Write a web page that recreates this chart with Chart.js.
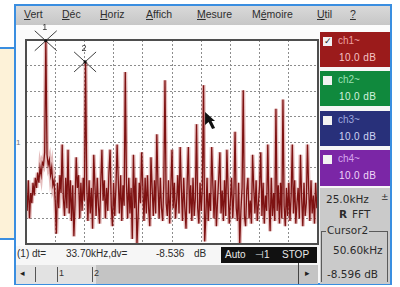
<!DOCTYPE html>
<html><head><meta charset="utf-8">
<script src="https://cdn.jsdelivr.net/npm/chart.js@4.4.1/dist/chart.umd.min.js"></script>
<style>
html,body{margin:0;padding:0;background:#fff;width:400px;height:287px;overflow:hidden;font-family:"Liberation Sans",Arial,sans-serif;}
#page{position:relative;width:400px;height:287px;}
.a{position:absolute;white-space:nowrap;}
.menu{top:8px;font-size:10.5px;color:#2e2e2e;}
.ch{left:320px;width:70px;height:35px;}
.chk{position:absolute;left:3px;top:5px;width:9px;height:9px;background:#f2f2f2;font-size:9px;line-height:9px;color:#222;text-align:center;}
.cn{position:absolute;left:18px;top:3px;font-size:10px;}
.cv{position:absolute;left:19px;top:20px;font-size:10px;letter-spacing:0.4px;}
.gt{font-family:"DejaVu Sans",sans-serif;font-size:10.5px;color:#2a2a2a;}
.st{top:248px;font-size:10px;color:#2a2a2a;}
#c{position:absolute;left:0;top:0;z-index:5;}
</style></head><body>
<div id="page">
  <!-- cream side box -->
  <div class="a" style="left:0;top:48px;width:14px;height:191px;background:#fdf2d8"></div>
  <div class="a" style="left:0;top:47px;width:15px;height:2px;background:#3a8ee0"></div>
  <div class="a" style="left:0;top:238px;width:15px;height:2px;background:#3a8ee0"></div>
  <!-- screenshot frame -->
  <div class="a" style="left:14px;top:4px;width:378px;height:281px;box-sizing:border-box;border:2px solid #3a8ee0;background:#f6f6f6"></div>
  <!-- menu bar -->
  <div class="a" style="left:16px;top:6px;width:374px;height:19px;background:linear-gradient(#d9d9d9,#c6c6c6)"></div>
  <div class="a menu" style="left:24px"><u>V</u>ert</div>
  <div class="a menu" style="left:62px"><u>D</u>éc</div>
  <div class="a menu" style="left:100px"><u>H</u>oriz</div>
  <div class="a menu" style="left:146px"><u>A</u>ffich</div>
  <div class="a menu" style="left:197px"><u>M</u>esure</div>
  <div class="a menu" style="left:252px">M<u>é</u>moire</div>
  <div class="a menu" style="left:317px"><u>U</u>til</div>
  <div class="a menu" style="left:350px"><u>?</u></div>
  <!-- white area under menu -->
  <div class="a" style="left:16px;top:25px;width:374px;height:15px;background:#fbfbfb"></div>
  <div class="a" style="left:16px;top:40px;width:10px;height:206px;background:#fbfbfb"></div>
  <div class="a" style="left:26px;top:40px;width:292px;height:204px;background:#ffffff"></div>
  <div class="a" style="left:16px;top:138px;font-size:8px;color:#777">1</div>

  <!-- channel boxes -->
  <div class="a ch" style="top:32px;background:#9b1b1b">
    <div class="chk">✓</div>
    <div class="cn" style="color:#eea0a0">ch1~</div>
    <div class="cv" style="color:#f6c4c4">10.0 dB</div>
  </div>
  <div class="a ch" style="top:71px;background:#10893d">
    <div class="chk"></div>
    <div class="cn" style="color:#9ee0b4">ch2~</div>
    <div class="cv" style="color:#d2f3dc">10.0 dB</div>
  </div>
  <div class="a ch" style="top:111px;background:#28307a">
    <div class="chk"></div>
    <div class="cn" style="color:#9ea6de">ch3~</div>
    <div class="cv" style="color:#cfd3f3">10.0 dB</div>
  </div>
  <div class="a ch" style="top:150px;height:36px;background:#7b26a6">
    <div class="chk"></div>
    <div class="cn" style="color:#d8a6ee">ch4~</div>
    <div class="cv" style="color:#efd6f8">10.0 dB</div>
  </div>
  <!-- gray info panel -->
  <div class="a" style="left:320px;top:188px;width:70px;height:96px;background:#cacaca"></div>
  <div class="a gt" style="left:326px;top:193px">25.0kHz</div>
  <div class="a gt" style="left:381px;top:192px;font-size:9px">±</div>
  <div class="a gt" style="left:339px;top:208px;font-weight:bold">R</div>
  <div class="a gt" style="left:352px;top:208px">FFT</div>
  <div class="a" style="left:321px;top:231px;width:67px;height:51px;box-sizing:border-box;border:1px solid #5a5a5a;border-bottom:none"></div>
  <div class="a gt" style="left:326px;top:224px;background:#cacaca;padding:0 1px">Cursor2</div>
  <div class="a gt" style="left:333px;top:244px">50.60kHz</div>
  <div class="a gt" style="left:327px;top:268px">-8.596 dB</div>

  <!-- status row -->
  <div class="a st" style="left:17px">(1) dt=</div>
  <div class="a st" style="left:66px">33.70kHz,dv=</div>
  <div class="a st" style="left:156px">-8.536</div>
  <div class="a st" style="left:194px">dB</div>
  <div class="a" style="left:221px;top:247px;width:96px;height:16px;background:#111"></div>
  <div class="a" style="left:225px;top:249px;font-size:10px;color:#e8e8e8">Auto</div>
  <div class="a" style="left:255px;top:249px;font-size:10px;color:#e8e8e8">⊣1</div>
  <div class="a" style="left:282px;top:249px;font-size:10px;color:#e8e8e8">STOP</div>
  <!-- scrollbar -->
  <div class="a" style="left:16px;top:265px;width:302px;height:19px;background:#c4c4c4"></div>
  <div class="a" style="left:16px;top:265px;width:80px;height:19px;background:#e2e2e2"></div>
  <div class="a" style="left:20px;top:268px;font-size:9px;color:#222">◂</div>
  <div class="a" style="left:35px;top:267px;width:1px;height:15px;background:#555"></div>
  <div class="a" style="left:57px;top:267px;width:1px;height:15px;background:#555"></div>
  <div class="a" style="left:59px;top:268px;font-size:9px;color:#333">1</div>
  <div class="a" style="left:92px;top:267px;width:1px;height:15px;background:#555"></div>
  <div class="a" style="left:94px;top:268px;font-size:9px;color:#333">2</div>
  <div class="a" style="left:298px;top:263px;width:1px;height:21px;background:#444"></div>
  <div class="a" style="left:305px;top:268px;font-size:9px;color:#222">▸</div>
</div>
<canvas id="c" width="400" height="287"></canvas>
<script>
// FFT spectrum of channel 1, one value per 1 kHz bin, 0 .. 250 kHz (dB)
const BIN_KHZ = 1;
const spectrumDb = [
 -58,-67,-55,-70,-60,-64,-56,-61,-54,-58,
 -52,-56,-50,-53,-48,-49,-44,0,-45,-49,
 -47,-53,-50,-57,-55,-63,-76,-56,-66,-53,
 -60,-41,-62,-69,-54,-66,-43,-68,-55,-71,
 -57,-77,-64,-46,-58,-53,-70,-56,-67,-54,
 -63,-8.6,-57,-71,-55,-68,-58,-74,-45,-57,
 -69,-54,-65,-72,-56,-43,-63,-55,-70,-58,
 -67,-52,-43,-65,-73,-56,-69,-58,-41,-55,
 -68,-53,-71,-57,-65,-12.6,-56,-70,-54,-68,
 -58,-78,-45,-66,-54,-80,-69,-56,-64,-44,
 -57,-71,-54,-68,-53,-66,-73,-46,-58,-69,
 -55,-68,-37,-57,-70,-54,-66,-71,-56,-15.8,
 -64,-69,-55,-72,-58,-43,-66,-56,-70,-63,
 -53,-68,-42,-58,-71,-54,-66,-74,-56,-42,
 -68,-57,-71,-54,-69,-62,-33,-66,-72,-56,
 -67,-58,-17.7,-79,-69,-54,-71,-60,-67,-42,
 -57,-70,-55,-73,-63,-54,-44,-68,-59,-71,
 -55,-69,-43,-58,-72,-63,-54,-70,-60,-36,
 -66,-71,-56,-80,-67,-58,-19.7,-69,-73,-59,
 -54,-70,-63,-72,-45,-58,-68,-55,-71,-64,
 -57,-44,-69,-56,-72,-61,-67,-41,-64,-75,
 -54,-69,-60,-71,-27,-67,-57,-72,-56,-70,
 -23.3,-65,-73,-58,-69,-56,-71,-61,-41,-68,
 -55,-72,-64,-58,-70,-45,-62,-73,-56,-69,
 -64,-41,-58,-71,-55,-68,-61,-72,-56,-66,
 -60
];
const freqKHz = spectrumDb.map((_, i) => i * BIN_KHZ);
// cursors
const cursorLabels = ['1', '2'];
const cursorFreqKHz = [16.9, 50.6];
const cursorLevelDb = [-0.3, -8.596];
// axis: 25 kHz/div x 10 div, 10 dB/div x 8 div
const xMin = 0, xMax = 250, xStep = 25;
const yMin = -80, yMax = 0, yStep = 10;
// mouse pointer position (kHz, dB)
const pointerAt = [153.3, -28.2];

const pts = freqKHz.map((f, i) => ({x: f, y: spectrumDb[i]}));

const overlay = {
  id: 'overlay',
  afterDatasetsDraw(chart) {
    const {ctx, chartArea: a, scales: {x, y}} = chart;
    ctx.save();
    ctx.strokeStyle = '#4e4e4e';
    ctx.lineWidth = 2;
    ctx.strokeRect(a.left, a.top, a.right - a.left, a.bottom - a.top);
    cursorFreqKHz.forEach((f, i) => {
      const px = x.getPixelForValue(f), py = y.getPixelForValue(cursorLevelDb[i]);
      ctx.strokeStyle = '#3c3c3c';
      ctx.lineWidth = 1;
      ctx.beginPath();
      ctx.moveTo(px - 11, py - 10); ctx.lineTo(px + 11, py + 10);
      ctx.moveTo(px + 11, py - 10); ctx.lineTo(px - 11, py + 10);
      ctx.stroke();
      ctx.fillStyle = '#111';
      ctx.beginPath(); ctx.arc(px, py, 1.6, 0, Math.PI * 2); ctx.fill();
      ctx.font = '9px "Liberation Sans", Arial, sans-serif';
      ctx.textAlign = 'center';
      ctx.textBaseline = 'middle';
      ctx.fillStyle = '#333';
      ctx.fillText(cursorLabels[i], px - 1, py - 13);
    });
    // mouse pointer
    const tx = x.getPixelForValue(pointerAt[0]), ty = y.getPixelForValue(pointerAt[1]);
    ctx.fillStyle = '#111';
    ctx.beginPath();
    ctx.moveTo(tx, ty);
    ctx.lineTo(tx, ty + 13);
    ctx.lineTo(tx + 3.5, ty + 10);
    ctx.lineTo(tx + 7, ty + 17);
    ctx.lineTo(tx + 10, ty + 16);
    ctx.lineTo(tx + 6.5, ty + 9);
    ctx.lineTo(tx + 10, ty + 9);
    ctx.closePath();
    ctx.fill();
    ctx.restore();
  }
};

new Chart(document.getElementById('c'), {
  type: 'line',
  data: {
    datasets: [
      {data: pts, borderColor: '#7e1212', borderWidth: 1.3, pointRadius: 0, tension: 0, order: 1},
      {data: pts, borderColor: 'rgba(185,80,80,0.38)', borderWidth: 4, pointRadius: 0, tension: 0, order: 2}
    ]
  },
  options: {
    responsive: false,
    animation: false,
    devicePixelRatio: 1,
    layout: {padding: {left: 26, top: 40, right: 82, bottom: 43}},
    plugins: {legend: {display: false}, tooltip: {enabled: false}},
    scales: {
      x: {type: 'linear', min: xMin, max: xMax,
          ticks: {display: false, stepSize: xStep},
          grid: {color: '#8c8c8c', lineWidth: 1, drawTicks: false},
          border: {display: false, dash: [2, 2]}},
      y: {type: 'linear', min: yMin, max: yMax,
          ticks: {display: false, stepSize: yStep},
          grid: {color: '#8c8c8c', lineWidth: 1, drawTicks: false},
          border: {display: false, dash: [2, 2]}}
    }
  },
  plugins: [overlay]
});
</script>
</body></html>
